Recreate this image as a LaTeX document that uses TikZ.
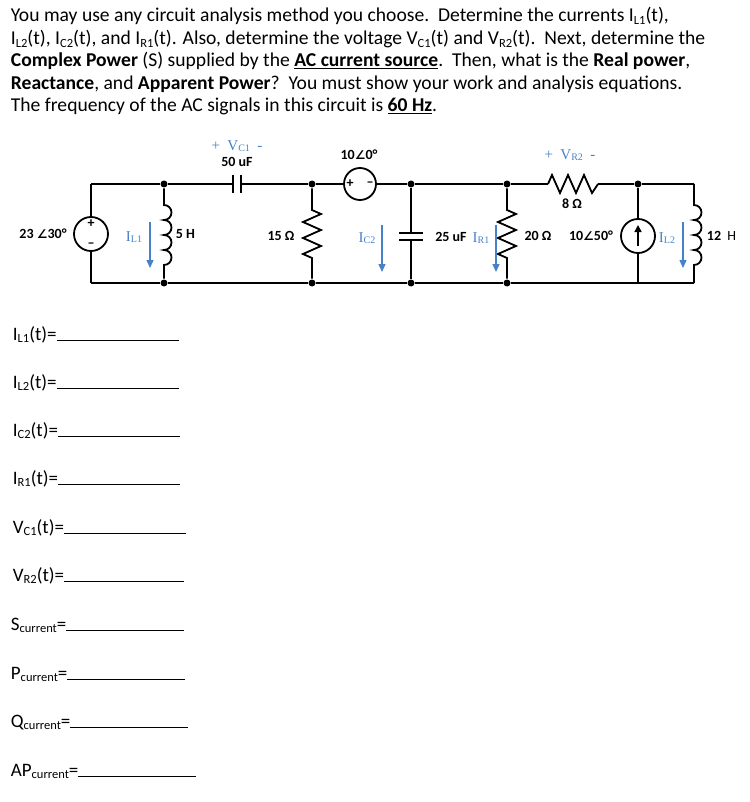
\documentclass[tikz,border=0pt]{standalone}
\usepackage{fontspec}
\setmainfont{Carlito}
\newfontfamily\dv{DejaVu Sans}
\newfontfamily\tms{Liberation Serif}
\usetikzlibrary{arrows.meta}
\definecolor{lblue}{RGB}{70,130,200}
\newcommand{\ang}{{\dv\fontsize{12}{12}\selectfont ∠}}
\newcommand{\subx}[1]{\raisebox{-0.25ex}{\fontsize{12.5}{12}\selectfont #1}}
\newcommand{\cur}[2]{{\tms\color{lblue}I\raisebox{-0.2ex}{\fontsize{10}{10}\selectfont #1}}}
\begin{document}
\begin{tikzpicture}[x=1pt,y=1pt,line width=1.8pt,
  lbl/.style={font=\bfseries\fontsize{14}{14}\selectfont,inner sep=0pt},
  blbl/.style={font=\tms\fontsize{15}{15}\selectfont,text=lblue,inner sep=0pt},
  txt/.style={font=\fontsize{19.6}{22}\selectfont,anchor=base west,inner sep=0pt},
  ans/.style={font=\fontsize{19}{22}\selectfont,anchor=base west,inner sep=0pt},
  dot/.style={circle,fill,inner sep=0pt,minimum size=7pt},
  src/.style={circle,draw,line width=1.8pt,minimum size=34pt,inner sep=0pt},
  barr/.style={draw=lblue,line width=1.3pt,-{Triangle[length=8pt,width=7pt]}}]
\useasboundingbox (0,0) rectangle (749,-802);
% text
\node[txt] (t1) at (10,-22) {You may use any circuit analysis method you choose.\ \ Determine the currents I\subx{L1}(t),};
\node[txt] (t2) at (10,-45) {I\subx{L2}(t), I\subx{C2}(t), and I\subx{R1}(t). Also, determine the voltage V\subx{C1}(t) and V\subx{R2}(t).\ \ Next, determine the};
\node[txt] (t3) at (10,-67) {\textbf{Complex Power} (S) supplied by the \textbf{\underline{AC current source}}.\ \ Then, what is the \textbf{Real power},};
\node[txt] (t4) at (10,-90) {\textbf{Reactance}, and \textbf{Apparent Power}?\ \ You must show your work and analysis equations.};
\node[txt] (t5) at (10,-112) {The frequency of the AC signals in this circuit is \textbf{\underline{60 Hz}}.};
% answers
\node[ans] (a1) at (12,-340) {I\subx{L1}(t)=\rule[-1pt]{122pt}{0.7pt}};
\node[ans] (a2) at (12,-388) {I\subx{L2}(t)=\rule[-1pt]{122pt}{0.7pt}};
\node[ans] (a3) at (12,-436) {I\subx{C2}(t)=\rule[-1pt]{122pt}{0.7pt}};
\node[ans] (a4) at (12,-484) {I\subx{R1}(t)=\rule[-1pt]{122pt}{0.7pt}};
\node[ans] (a5) at (12,-533) {V\subx{C1}(t)=\rule[-1pt]{122pt}{0.7pt}};
\node[ans] (a6) at (12,-581) {V\subx{R2}(t)=\rule[-1pt]{120pt}{0.7pt}};
\node[ans] (a7) at (10,-630) {S\subx{current}=\rule[-1pt]{118pt}{0.7pt}};
\node[ans] (a8) at (10,-679) {P\subx{current}=\rule[-1pt]{118pt}{0.7pt}};
\node[ans] (a9) at (10,-727) {Q\subx{current}=\rule[-1pt]{118pt}{0.7pt}};
\node[ans] (a10) at (10,-776) {AP\subx{current}=\rule[-1pt]{118pt}{0.7pt}};
% nodes
\foreach \n/\x in {a/164,b/312,c/411,d/507}{
  \node[dot] (\n t) at (\x,-184) {};
  \node[dot] (\n b) at (\x,-283) {};}
\node[dot] (et) at (638,-184) {};
\coordinate (eb) at (638,-283);
\coordinate (lt) at (91,-184); \coordinate (lb) at (91,-283);
\coordinate (rt) at (694,-184); \coordinate (rb) at (694,-283);
\node[src] (vs1) at (91,-234) {};
\node[src,minimum size=32pt] (vs2) at (360,-184) {};
\node[src] (is) at (638,-236) {};
% wires
\draw (lt) -- (vs1.north); \draw (vs1.south) -- (lb);
\draw (lt) -- (at) -- (233,-184); \draw (241,-184) -- (bt) -- (vs2.west);
\draw (vs2.east) -- (ct) -- (dt) -- (548,-184);
\draw (598,-184) -- (et) -- (rt);
\draw (lb) -- (ab) -- (bb) -- (cb) -- (db) -- (eb) -- (rb);
% C1
\draw (233,-175) -- (233,-193); \draw (241,-175) -- (241,-193);
% C2
\draw (ct) -- (411,-233); \draw (399,-233) -- (423,-233);
\draw (399,-240) -- (423,-240); \draw (411,-240) -- (cb);
% L1
\draw (at) -- (164,-205) arc[start angle=90,end angle=-90,radius=7.5] arc[start angle=90,end angle=-90,radius=7.5] arc[start angle=90,end angle=-90,radius=7.5] arc[start angle=90,end angle=-90,radius=7.5] -- (ab);
% L2
\draw (rt) -- (694,-205) arc[start angle=90,end angle=-90,radius=7.5] arc[start angle=90,end angle=-90,radius=7.5] arc[start angle=90,end angle=-90,radius=7.5] arc[start angle=90,end angle=-90,radius=7.5] -- (rb);
% R 15
\draw (bt) -- (312,-210) -- (321,-214) -- (303,-222) -- (321,-230) -- (303,-238) -- (321,-246) -- (303,-254) -- (312,-258) -- (bb);
% R 20
\draw (dt) -- (507,-210) -- (516,-214) -- (498,-222) -- (516,-230) -- (498,-238) -- (516,-246) -- (498,-254) -- (507,-258) -- (db);
% R 8
\draw (548,-184) -- (552,-175) -- (560,-193) -- (568,-175) -- (576,-193) -- (584,-175) -- (592,-193) -- (598,-184);
% current source
\draw (is.north) -- (et); \draw (is.south) -- (eb);
\draw[-{Triangle[length=7pt,width=7pt]},line width=1.5pt] (638,-246) -- (638,-225);
% source signs
\node[lbl] (p1) at (91,-224) {+}; \node[lbl] (m1) at (91,-245) {--};
\node[lbl] (p2) at (350,-184) {+}; \node[lbl] (m2) at (370,-184) {--};
% labels
\node[lbl] (l1) at (43,-234) {23 \ang30°};
\node[lbl,anchor=west] (l2) at (175,-234) {5 H};
\node[lbl] (l3) at (237,-162) {50 uF};
\node[blbl] (l4) at (237,-146) {+\ \ V\raisebox{-0.2ex}{\fontsize{10}{10}\selectfont C1}\ \ -};
\node[lbl] (l5) at (281,-236) {15 Ω};
\node[lbl] (l6) at (359,-155) {10\ang0°};
\node[lbl] (l7) at (451,-237) {25 uF};
\node[lbl] (l8) at (538,-236) {20 Ω};
\node[lbl] (l9) at (591,-236) {10\ang50°};
\node[lbl] (l10) at (572,-204) {8 Ω};
\node[blbl] (l11) at (570,-155) {+\ \ V\raisebox{-0.2ex}{\fontsize{10}{10}\selectfont R2}\ \ -};
\node[lbl,anchor=west] (l12) at (706,-236) {12 \mdseries\ H};
\node[blbl] (i1) at (134,-237) {\cur{L1}{}};
\node[blbl] (i2) at (367,-238) {\cur{C2}{}};
\node[blbl] (i3) at (481,-238) {\cur{R1}{}};
\node[blbl] (i4) at (667,-238) {\cur{L2}{}};
\coordinate (i1a) at (150,-222); \coordinate (i1b) at (150,-268);
\coordinate (i2a) at (382,-225); \coordinate (i2b) at (382,-272);
\coordinate (i3a) at (496,-225); \coordinate (i3b) at (496,-272);
\coordinate (i4a) at (683,-222); \coordinate (i4b) at (683,-268);
\draw[barr] (i1a) -- (i1b); \draw[barr] (i2a) -- (i2b);
\draw[barr] (i3a) -- (i3b); \draw[barr] (i4a) -- (i4b);
\end{tikzpicture}
\end{document}
